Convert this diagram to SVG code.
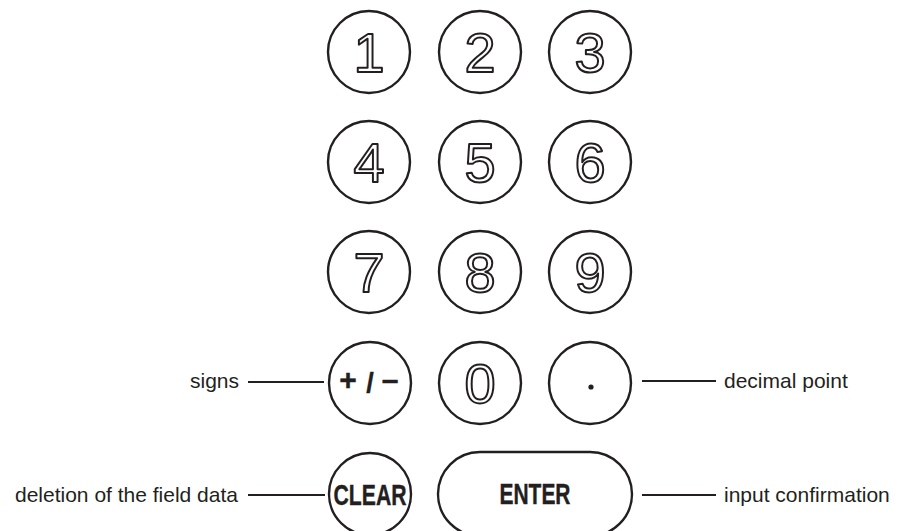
<svg xmlns="http://www.w3.org/2000/svg" width="898" height="531" viewBox="0 0 898 531">
<style>
.key{fill:#fff;stroke:#231f20;stroke-width:2.4}
.dg{font-family:"Liberation Sans",Arial,sans-serif;font-size:56px;fill:#fff;stroke:#231f20;stroke-width:2;stroke-linejoin:round;text-anchor:middle}
.bt{font-family:"Liberation Sans",Arial,sans-serif;font-weight:bold;font-size:30px;fill:#231f20;stroke:#231f20;stroke-width:0.4;text-anchor:middle}
.lb{font-family:"Liberation Sans",Arial,sans-serif;font-size:21px;fill:#231f20}
.ln{stroke:#231f20;stroke-width:2;fill:none}
</style>
<rect width="898" height="531" fill="#fff"/>
<g id="key-1"><circle class="key" cx="369" cy="52" r="41"/><text class="dg" x="369" y="72">1</text></g>
<g id="key-2"><circle class="key" cx="480" cy="52" r="41"/><text class="dg" x="480" y="72">2</text></g>
<g id="key-3"><circle class="key" cx="590" cy="52" r="41"/><text class="dg" x="590" y="72">3</text></g>
<g id="key-4"><circle class="key" cx="369" cy="162" r="41"/><text class="dg" x="369" y="182">4</text></g>
<g id="key-5"><circle class="key" cx="480" cy="162" r="41"/><text class="dg" x="480" y="182">5</text></g>
<g id="key-6"><circle class="key" cx="590" cy="162" r="41"/><text class="dg" x="590" y="182">6</text></g>
<g id="key-7"><circle class="key" cx="369" cy="272" r="41"/><text class="dg" x="369" y="292">7</text></g>
<g id="key-8"><circle class="key" cx="480" cy="272" r="41"/><text class="dg" x="480" y="292">8</text></g>
<g id="key-9"><circle class="key" cx="590" cy="272" r="41"/><text class="dg" x="590" y="292">9</text></g>
<g id="key-sign"><circle class="key" cx="370" cy="383" r="41"/><text class="bt" y="390" font-size="24"><tspan x="348">+</tspan><tspan x="370" font-size="27" y="392">/</tspan><tspan x="390" y="390">–</tspan></text></g>
<g id="key-0"><circle class="key" cx="480" cy="383" r="41"/><text class="dg" x="480" y="403">0</text></g>
<g id="key-dot"><circle class="key" cx="590" cy="383" r="41"/><circle cx="591" cy="387" r="2.6" fill="#231f20"/></g>
<g id="key-clear"><circle class="key" cx="370" cy="494" r="41"/><text class="bt" x="370" y="505" textLength="73" lengthAdjust="spacingAndGlyphs">CLEAR</text></g>
<g id="key-enter"><rect class="key" x="438" y="452" width="194" height="84" rx="42" ry="42"/><text class="bt" x="535" y="504" textLength="71" lengthAdjust="spacingAndGlyphs">ENTER</text></g>
<g id="connectors">
<line class="ln" x1="248" y1="382" x2="324" y2="382"/>
<line class="ln" x1="642" y1="381" x2="716" y2="381"/>
<line class="ln" x1="248" y1="495" x2="325" y2="495"/>
<line class="ln" x1="642" y1="495" x2="716" y2="495"/>
</g>
<g id="labels">
<text class="lb" x="239" y="388" text-anchor="end">signs</text>
<text class="lb" x="724" y="388">decimal point</text>
<text class="lb" x="238" y="502" text-anchor="end">deletion of the field data</text>
<text class="lb" x="724" y="502">input confirmation</text>
</g>
</svg>
